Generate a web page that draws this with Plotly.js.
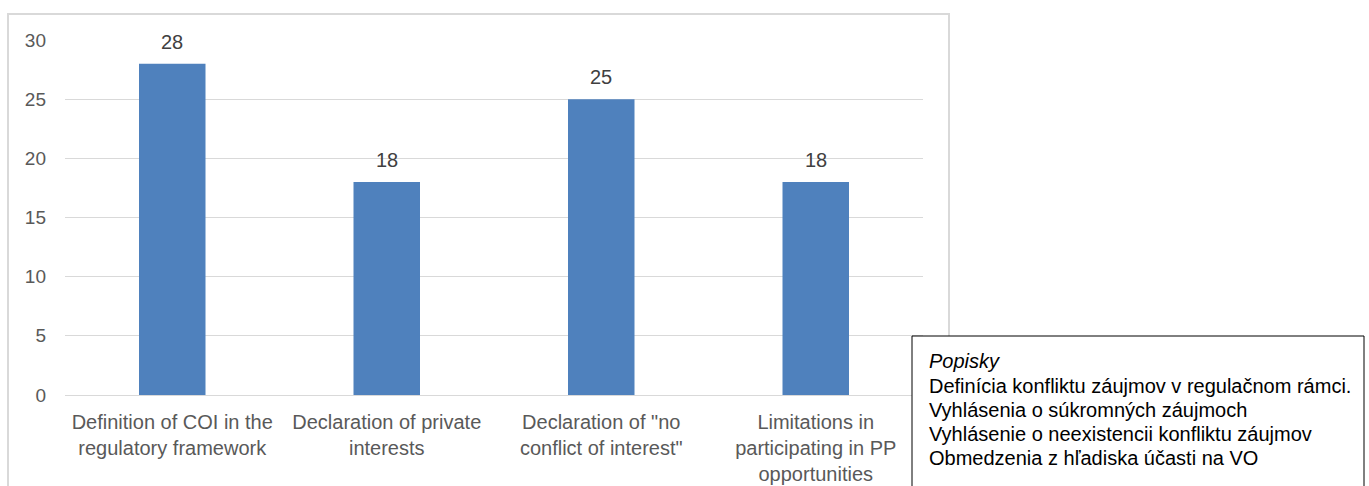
<!DOCTYPE html>
<html>
<head>
<meta charset="utf-8">
<script src="https://cdn.plot.ly/plotly-3.0.1.min.js"></script>
<style>html,body{margin:0;padding:0;background:#fff;}#chart{width:1369px;height:486px;}</style>
</head>
<body>
<div id="chart"></div>
<script>
// ---- data ----
var categories = [
  "Definition of COI in the<br>regulatory framework",
  "Declaration of private<br>interests",
  "Declaration of \"no<br>conflict of interest\"",
  "Limitations in<br>participating in PP<br>opportunities"
];
var values = [28, 18, 25, 18];
var yTicks = [0, 5, 10, 15, 20, 25, 30];
var legendTitle = "Popisky";
var legendLines = [
  "Definícia konfliktu záujmov v regulačnom rámci.",
  "Vyhlásenia o súkromných záujmoch",
  "Vyhlásenie o neexistencii konfliktu záujmov",
  "Obmedzenia z hľadiska účasti na VO"
];

// ---- layout helpers (pixel -> paper) ----
var W = 1369, H = 486;
var L = 65, R = 923, T = 40, B = 395;
function xp(px){ return (px - L) / (R - L); }
function yp(py){ return (B - py) / (B - T); }

var FONT = "Liberation Sans, Arial, sans-serif";

var annotations = [];
for (var i = 0; i < categories.length; i++) {
  annotations.push({
    x: categories[i], y: values[i], xref: 'x', yref: 'y',
    text: String(values[i]), showarrow: false,
    yanchor: 'middle', yshift: 22,
    font: {family: FONT, size: 20, color: '#404040'}
  });
}
var legendY = [361, 386, 410, 434, 458];
annotations.push({
  x: xp(927), y: yp(legendY[0]), xref: 'paper', yref: 'paper',
  xanchor: 'left', yanchor: 'middle', showarrow: false,
  text: '<i>' + legendTitle + '</i>',
  font: {family: FONT, size: 20, color: '#000000'}
});
for (var j = 0; j < legendLines.length; j++) {
  annotations.push({
    x: xp(927), y: yp(legendY[j + 1]), xref: 'paper', yref: 'paper',
    xanchor: 'left', yanchor: 'middle', showarrow: false,
    text: legendLines[j],
    font: {family: FONT, size: 20, color: '#000000'}
  });
}

var data = [{
  type: 'bar',
  x: categories,
  y: values,
  marker: {color: '#4F81BD'},
  hoverinfo: 'none'
}];

var layout = {
  width: W, height: H,
  margin: {l: L, r: W - R, t: T, b: H - B, pad: 0},
  paper_bgcolor: '#ffffff', plot_bgcolor: '#ffffff',
  showlegend: false,
  bargap: 0.69,
  font: {family: FONT, size: 19, color: '#595959'},
  xaxis: {
    type: 'category',
    showgrid: false, zeroline: false, showline: false,
    ticks: '', ticklabelstandoff: 13,
    tickfont: {family: FONT, size: 20, color: '#595959'}
  },
  yaxis: {
    range: [0, 30], tickvals: yTicks,
    showgrid: true, gridcolor: '#d9d9d9', gridwidth: 1,
    zeroline: true, zerolinecolor: '#d9d9d9', zerolinewidth: 1,
    showline: false, ticks: '', ticklabelstandoff: 18,
    tickfont: {family: FONT, size: 19, color: '#595959'}
  },
  shapes: [
    {type: 'rect', xref: 'paper', yref: 'paper', layer: 'below',
     x0: xp(8), x1: xp(949), y0: yp(530), y1: yp(14),
     line: {color: '#d9d9d9', width: 2}, fillcolor: 'rgba(0,0,0,0)'},
    {type: 'rect', xref: 'paper', yref: 'paper', layer: 'above',
     x0: xp(912), x1: xp(1364), y0: yp(530), y1: yp(336),
     line: {color: '#000000', width: 1}, fillcolor: '#ffffff'}
  ],
  annotations: annotations
};

Plotly.newPlot('chart', data, layout, {displayModeBar: false, staticPlot: true});
</script>
</body>
</html>
